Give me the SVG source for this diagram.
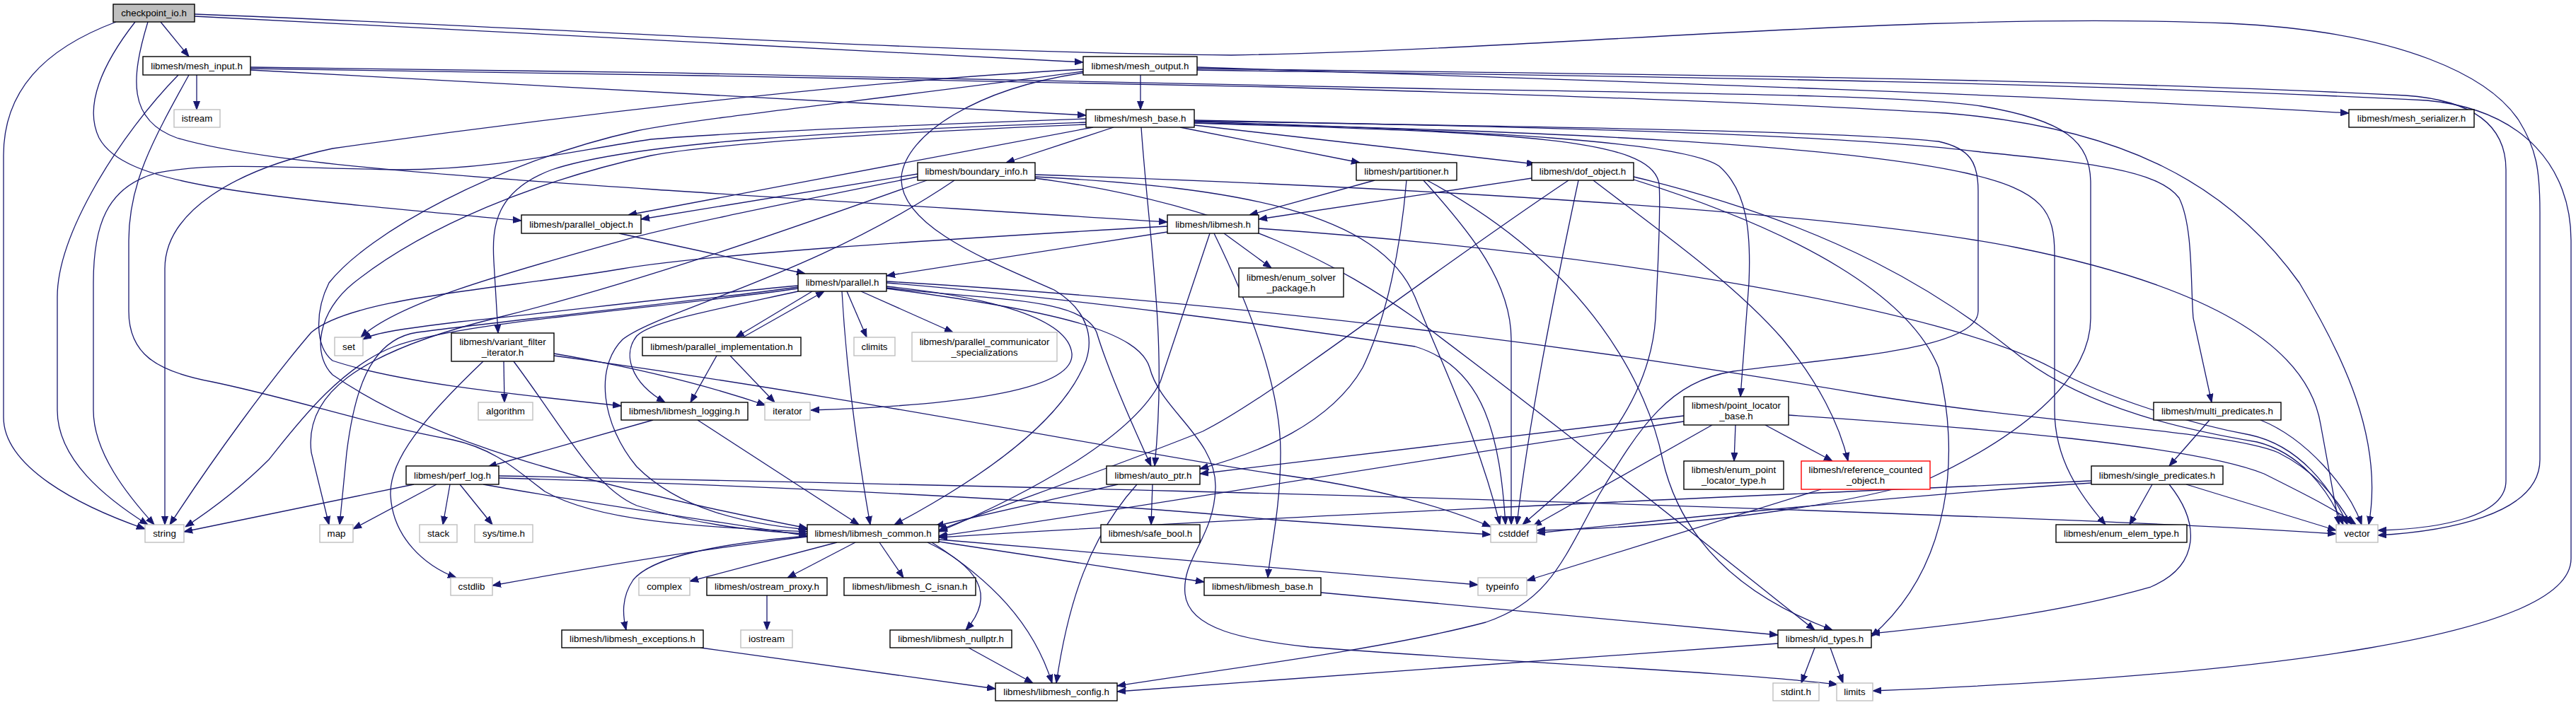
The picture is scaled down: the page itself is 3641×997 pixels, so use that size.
<svg xmlns="http://www.w3.org/2000/svg" width="3641" height="997" viewBox="0 0 3641 997">
<style>
.n rect{fill:#fff;stroke:#000;stroke-width:1.4}
.g rect{fill:#fff;stroke:#bfbfbf;stroke-width:1.4}
.r rect{fill:#fff;stroke:#ff0000;stroke-width:1.4}
.root rect{fill:#bfbfbf;stroke:#000;stroke-width:1.4}
text{font-family:"Liberation Sans",Arial,Helvetica,sans-serif;font-size:13.33px;text-anchor:middle;fill:#000}
#edges path{fill:none;stroke:#191970;stroke-width:1.3;marker-end:url(#arr)}
</style>
<defs>
<marker id="arr" viewBox="0 0 12 10" refX="12" refY="5" markerWidth="12" markerHeight="10" markerUnits="userSpaceOnUse" orient="auto"><path d="M0,0.5 L12,5 L0,9.5 z" fill="#191970" stroke="#191970" stroke-width="1"/></marker>
</defs>
<rect width="3641" height="997" fill="#fff"/>
<g id="edges">
<path d="M227,31 L267,80"/>
<path d="M275,23 C700,45 1200,70 1531,88"/>
<path d="M191,31 C145,90 118,150 140,195 C175,260 330,275 737,312"/>
<path d="M209,31 C185,110 180,170 250,195 C400,240 800,260 1650,314"/>
<path d="M164,31 C60,70 5,130 5,220 L5,590 C5,660 110,715 205,748"/>
<path d="M275,20 C800,40 1300,74 1740,78 C2200,70 2700,15 3150,33 C3400,45 3520,110 3560,170 C3585,210 3590,240 3590,300 L3590,650 C3590,730 3450,752 3361,757"/>
<path d="M278,106 L278,155"/>
<path d="M354,99 L1535,163"/>
<path d="M252,106 C170,190 81,330 81,420 L81,580 C81,650 150,705 209,742"/>
<path d="M267,106 C215,200 182,260 182,340 L182,440 C182,500 220,525 300,540 C420,565 520,600 640,622 C700,635 730,665 770,695 C850,740 1000,745 1141,752"/>
<path d="M354,95 C900,100 1600,115 2000,125 C2400,132 2700,135 2800,150 C2920,170 2955,200 2955,260 L2955,450 C2955,540 2850,620 2720,680 C2550,730 2300,748 2172,750"/>
<path d="M354,97 C800,102 1400,115 1800,123 C2200,135 2500,145 2750,160 C3000,180 3150,260 3250,400 C3310,500 3370,620 3348,742"/>
<path d="M1612,106 L1612,155"/>
<path d="M1531,98 C1200,115 750,170 470,210 C330,240 233,300 233,380 L233,742"/>
<path d="M1531,101 C1250,140 1000,165 900,185 C700,230 520,330 465,400 C445,440 445,490 470,510 C560,540 700,555 878,574"/>
<path d="M1531,103 C1380,125 1280,190 1274,250 C1270,320 1400,370 1490,410 C1540,440 1545,480 1535,510 C1500,600 1380,680 1264,742"/>
<path d="M1692,95 C2300,115 2900,135 3320,160"/>
<path d="M1692,97 C2300,105 2900,110 3400,135 C3500,142 3542,180 3542,240 L3542,680 C3542,730 3450,748 3361,750"/>
<path d="M1692,99 C2300,108 2900,115 3430,142 C3570,155 3634,240 3634,340 L3634,790 C3634,900 3200,955 2647,977"/>
<path d="M1574,180 L1422,230"/>
<path d="M1545,180 L888,304"/>
<path d="M1613,180 C1625,350 1650,480 1632,659"/>
<path d="M1668,180 L1922,230"/>
<path d="M1688,177 L2170,232"/>
<path d="M1535,173 C1200,185 900,200 780,240 C700,270 695,320 698,370 L704,471"/>
<path d="M1535,168 C1200,180 1000,190 920,197 C800,215 700,240 560,240 C420,238 300,228 220,245 C150,265 132,320 132,400 L132,580 C132,640 180,700 218,742"/>
<path d="M1535,176 C1200,190 1000,205 920,220 C760,255 600,320 500,400 C450,440 440,500 470,530 C600,620 800,680 1141,747"/>
<path d="M1688,172 C2100,185 2380,200 2430,235 C2470,270 2475,330 2472,400 L2460,561"/>
<path d="M1688,170 C2200,180 2600,190 2800,215 C2950,230 3050,240 3080,280 C3100,320 3096,400 3100,450 L3126,569"/>
<path d="M1688,174 C2200,185 2600,205 2780,245 C2890,270 2904,300 2904,360 L2904,580 C2904,650 2940,700 2976,742"/>
<path d="M1688,174 C2150,188 2335,195 2345,260 C2348,300 2342,400 2340,450 C2330,600 2200,700 2152,742"/>
<path d="M1688,171 C2200,180 2600,185 2740,200 C2785,210 2796,230 2796,270 L2796,440 C2796,495 2600,505 2450,525 C2360,540 2320,600 2260,700 C2210,790 2190,850 2100,880 C1950,920 1700,950 1579,970"/>
<path d="M1297,246 L906,310"/>
<path d="M1349,255 C1150,390 930,440 880,480 C840,520 850,600 900,660 C960,720 1050,740 1141,749"/>
<path d="M1297,250 C1100,290 950,320 880,340 C700,390 560,430 510,477"/>
<path d="M1310,255 C1100,330 900,400 700,450 C500,500 430,560 440,640 L465,742"/>
<path d="M1463,247 C2000,265 2600,300 2850,350 C3100,400 3260,480 3280,600 L3306,742"/>
<path d="M1463,250 C1750,265 1950,300 2000,420 C2040,520 2090,620 2120,742"/>
<path d="M1463,252 C1750,290 1900,380 2000,450 C2200,600 2400,760 2565,891"/>
<path d="M1943,255 L1766,304"/>
<path d="M1988,255 C1980,350 1960,450 1926,520 C1880,600 1780,640 1696,663"/>
<path d="M2012,255 C2080,330 2136,400 2136,480 L2136,742"/>
<path d="M2017,255 C2250,380 2330,550 2350,650 C2380,780 2480,850 2590,891"/>
<path d="M2165,252 L1779,310"/>
<path d="M2217,255 C2000,400 1800,560 1700,610 C1550,670 1400,720 1327,750"/>
<path d="M2252,255 C2350,330 2450,400 2520,480 C2570,540 2600,600 2612,652"/>
<path d="M2231,255 C2200,400 2160,600 2144,742"/>
<path d="M2309,250 C2600,320 2750,420 2850,500 C2950,580 3100,610 3190,625 C3250,640 3290,690 3312,742"/>
<path d="M2309,254 C2550,330 2700,420 2740,520 C2770,640 2760,800 2645,900"/>
<path d="M875,330 L1138,387"/>
<path d="M1650,328 L1253,390"/>
<path d="M1730,330 L1797,379"/>
<path d="M1716,330 C1760,420 1810,540 1810,640 C1810,720 1795,780 1792,817"/>
<path d="M1710,330 C1680,420 1660,480 1640,540 C1600,620 1450,700 1327,752"/>
<path d="M1650,320 C1300,340 1000,360 880,380 C700,410 500,420 440,470 C380,540 300,650 240,742"/>
<path d="M1779,323 C2300,360 2750,440 2900,520 C2980,565 3100,600 3180,615 C3250,630 3295,690 3318,742"/>
<path d="M1128,404 C950,420 800,440 650,455 C570,465 530,470 513,480"/>
<path d="M1128,406 C950,430 700,455 590,470 C520,480 500,560 490,640 L480,742"/>
<path d="M1128,408 C900,440 650,455 557,490 C480,520 420,600 380,650 C340,690 300,720 262,745"/>
<path d="M1128,412 C1000,440 920,455 900,475 C880,500 890,540 940,569"/>
<path d="M1148,412 L1040,477"/>
<path d="M1050,477 L1165,412"/>
<path d="M1197,412 L1225,477"/>
<path d="M1217,412 L1347,470"/>
<path d="M1190,412 C1195,500 1205,600 1230,742"/>
<path d="M1253,405 C1400,420 1510,450 1515,500 C1520,560 1300,575 1146,580"/>
<path d="M1253,407 C1400,425 1530,420 1550,470 C1565,520 1600,600 1627,659"/>
<path d="M1253,408 C1500,440 1610,470 1625,520 C1640,580 1720,620 1718,690 C1716,760 1670,790 1675,840 C1680,890 1760,905 1850,915 C2100,935 2450,950 2597,968"/>
<path d="M1253,400 C1500,420 1800,460 2000,490 C2100,520 2120,620 2128,742"/>
<path d="M1253,398 C1800,430 2300,500 2650,560 C2900,600 3150,610 3220,640 C3270,665 3300,700 3324,742"/>
<path d="M1013,503 L976,569"/>
<path d="M1032,503 L1095,569"/>
<path d="M712,511 L713,569"/>
<path d="M683,511 C600,590 550,650 552,700 C555,760 600,800 645,817"/>
<path d="M726,511 C800,610 840,690 900,715 C980,740 1050,750 1141,755"/>
<path d="M783,500 C900,520 1000,545 1082,573"/>
<path d="M783,503 C1200,560 1600,640 1800,670 C1950,690 2050,720 2107,745"/>
<path d="M923,594 L690,660"/>
<path d="M986,594 L1214,742"/>
<path d="M585,685 L260,752"/>
<path d="M617,685 L499,748"/>
<path d="M636,685 L626,742"/>
<path d="M650,685 L696,742"/>
<path d="M683,685 C850,715 1000,735 1141,758"/>
<path d="M705,676 C1200,690 1600,715 1800,735 C1950,745 2050,752 2107,756"/>
<path d="M705,673 C1300,685 2000,700 2720,728 C3000,738 3200,748 3302,755"/>
<path d="M2380,588 L1696,670"/>
<path d="M2380,596 C2000,650 1600,720 1327,758"/>
<path d="M2420,601 L2167,744"/>
<path d="M2453,601 L2451,652"/>
<path d="M2495,601 L2590,652"/>
<path d="M2528,587 C2800,605 3100,630 3200,670 C3260,700 3300,720 3330,742"/>
<path d="M3123,594 L3066,659"/>
<path d="M3195,594 C3260,620 3320,690 3338,742"/>
<path d="M3042,685 L3010,742"/>
<path d="M3090,685 L3302,750"/>
<path d="M3066,685 C3110,740 3110,800 3040,830 C2900,870 2750,885 2645,896"/>
<path d="M2956,680 C2500,700 1800,730 1327,760"/>
<path d="M2956,683 C2700,700 2400,730 2172,754"/>
<path d="M1580,685 L1322,744"/>
<path d="M1629,685 L1627,742"/>
<path d="M1607,685 C1540,760 1510,850 1493,966"/>
<path d="M2574,692 L2158,821"/>
<path d="M1141,759 C1000,775 850,800 696,828"/>
<path d="M1141,758 C1000,770 920,790 895,820 C878,845 880,870 885,891"/>
<path d="M1183,767 L975,822"/>
<path d="M1209,767 L1113,817"/>
<path d="M1243,767 L1277,817"/>
<path d="M1311,767 C1380,800 1410,840 1365,891"/>
<path d="M1317,767 C1400,820 1460,880 1487,966"/>
<path d="M1327,763 L2089,827"/>
<path d="M1327,766 L1702,823"/>
<path d="M1084,842 L1084,891"/>
<path d="M1867,838 L2513,898"/>
<path d="M990,916 L1407,974"/>
<path d="M1369,916 L1460,966"/>
<path d="M2565,916 L2546,966"/>
<path d="M2587,916 L2605,966"/>
<path d="M2513,910 L1579,978"/>
</g>
<g id="n1" class="root"><rect x="160" y="6" width="115" height="25"/><text x="217.5" y="23">checkpoint_io.h</text></g>
<g id="n2" class="n"><rect x="202" y="80" width="152" height="26"/><text x="278" y="97.5">libmesh/mesh_input.h</text></g>
<g id="n3" class="g"><rect x="246" y="155" width="65" height="25"/><text x="278.5" y="172">istream</text></g>
<g id="n4" class="n"><rect x="1531" y="80" width="161" height="26"/><text x="1611.5" y="97.5">libmesh/mesh_output.h</text></g>
<g id="n5" class="n"><rect x="1535" y="155" width="153" height="25"/><text x="1611.5" y="172">libmesh/mesh_base.h</text></g>
<g id="n6" class="n"><rect x="3320" y="155" width="177" height="25"/><text x="3408.5" y="172">libmesh/mesh_serializer.h</text></g>
<g id="n7" class="n"><rect x="1297" y="230" width="166" height="25"/><text x="1380" y="247">libmesh/boundary_info.h</text></g>
<g id="n8" class="n"><rect x="1917" y="230" width="142" height="25"/><text x="1988" y="247">libmesh/partitioner.h</text></g>
<g id="n9" class="n"><rect x="2165" y="230" width="144" height="25"/><text x="2237" y="247">libmesh/dof_object.h</text></g>
<g id="n10" class="n"><rect x="737" y="304" width="169" height="26"/><text x="821.5" y="321.5">libmesh/parallel_object.h</text></g>
<g id="n11" class="n"><rect x="1650" y="304" width="129" height="26"/><text x="1714.5" y="321.5">libmesh/libmesh.h</text></g>
<g id="n12" class="n"><rect x="1751" y="379" width="148" height="41"/><text x="1825" y="396.5">libmesh/enum_solver</text><text x="1825" y="411.5">_package.h</text></g>
<g id="n13" class="n"><rect x="1128" y="387" width="125" height="25"/><text x="1190.5" y="404">libmesh/parallel.h</text></g>
<g id="n14" class="g"><rect x="473" y="477" width="40" height="26"/><text x="493" y="494.5">set</text></g>
<g id="n15" class="n"><rect x="638" y="471" width="145" height="40"/><text x="710.5" y="488.3">libmesh/variant_filter</text><text x="710.5" y="503.3">_iterator.h</text></g>
<g id="n16" class="n"><rect x="908" y="477" width="224" height="26"/><text x="1020" y="494.5">libmesh/parallel_implementation.h</text></g>
<g id="n17" class="g"><rect x="1207" y="477" width="58" height="26"/><text x="1236" y="494.5">climits</text></g>
<g id="n18" class="g"><rect x="1289" y="470" width="205" height="41"/><text x="1391.5" y="487.8">libmesh/parallel_communicator</text><text x="1391.5" y="502.8">_specializations</text></g>
<g id="n19" class="n"><rect x="878" y="569" width="179" height="25"/><text x="967.5" y="586">libmesh/libmesh_logging.h</text></g>
<g id="n20" class="g"><rect x="1081" y="569" width="64" height="25"/><text x="1113" y="586">iterator</text></g>
<g id="n21" class="g"><rect x="676" y="569" width="77" height="25"/><text x="714.5" y="586">algorithm</text></g>
<g id="n22" class="n"><rect x="574" y="659" width="131" height="26"/><text x="639.5" y="676.5">libmesh/perf_log.h</text></g>
<g id="n23" class="n"><rect x="2380" y="561" width="148" height="40"/><text x="2454" y="578.3">libmesh/point_locator</text><text x="2454" y="593.3">_base.h</text></g>
<g id="n24" class="n"><rect x="3044" y="569" width="180" height="25"/><text x="3134" y="586">libmesh/multi_predicates.h</text></g>
<g id="n25" class="n"><rect x="1564" y="659" width="132" height="26"/><text x="1630" y="676.5">libmesh/auto_ptr.h</text></g>
<g id="n26" class="n"><rect x="2380" y="652" width="141" height="40"/><text x="2450.5" y="669.3">libmesh/enum_point</text><text x="2450.5" y="684.3">_locator_type.h</text></g>
<g id="n27" class="r"><rect x="2546" y="652" width="182" height="40"/><text x="2637" y="669.3">libmesh/reference_counted</text><text x="2637" y="684.3">_object.h</text></g>
<g id="n28" class="n"><rect x="2956" y="659" width="186" height="26"/><text x="3049" y="676.5">libmesh/single_predicates.h</text></g>
<g id="n29" class="g"><rect x="205" y="742" width="55" height="25"/><text x="232.5" y="759">string</text></g>
<g id="n30" class="g"><rect x="452" y="742" width="47" height="25"/><text x="475.5" y="759">map</text></g>
<g id="n31" class="g"><rect x="593" y="742" width="53" height="25"/><text x="619.5" y="759">stack</text></g>
<g id="n32" class="g"><rect x="671" y="742" width="82" height="25"/><text x="712" y="759">sys/time.h</text></g>
<g id="n33" class="n"><rect x="1141" y="742" width="186" height="25"/><text x="1234" y="759">libmesh/libmesh_common.h</text></g>
<g id="n34" class="n"><rect x="1556" y="742" width="140" height="25"/><text x="1626" y="759">libmesh/safe_bool.h</text></g>
<g id="n35" class="g"><rect x="2107" y="742" width="65" height="25"/><text x="2139.5" y="759">cstddef</text></g>
<g id="n36" class="n"><rect x="2906" y="742" width="185" height="25"/><text x="2998.5" y="759">libmesh/enum_elem_type.h</text></g>
<g id="n37" class="g"><rect x="3302" y="742" width="59" height="25"/><text x="3331.5" y="759">vector</text></g>
<g id="n38" class="g"><rect x="637" y="817" width="59" height="25"/><text x="666.5" y="834">cstdlib</text></g>
<g id="n39" class="g"><rect x="903" y="817" width="72" height="25"/><text x="939" y="834">complex</text></g>
<g id="n40" class="n"><rect x="999" y="817" width="170" height="25"/><text x="1084" y="834">libmesh/ostream_proxy.h</text></g>
<g id="n41" class="n"><rect x="1193" y="817" width="186" height="25"/><text x="1286" y="834">libmesh/libmesh_C_isnan.h</text></g>
<g id="n42" class="n"><rect x="1702" y="817" width="165" height="25"/><text x="1784.5" y="834">libmesh/libmesh_base.h</text></g>
<g id="n43" class="g"><rect x="2089" y="817" width="69" height="25"/><text x="2123.5" y="834">typeinfo</text></g>
<g id="n44" class="n"><rect x="794" y="891" width="200" height="25"/><text x="894" y="908">libmesh/libmesh_exceptions.h</text></g>
<g id="n45" class="g"><rect x="1047" y="891" width="73" height="25"/><text x="1083.5" y="908">iostream</text></g>
<g id="n46" class="n"><rect x="1258" y="891" width="172" height="25"/><text x="1344" y="908">libmesh/libmesh_nullptr.h</text></g>
<g id="n47" class="n"><rect x="2513" y="891" width="132" height="25"/><text x="2579" y="908">libmesh/id_types.h</text></g>
<g id="n48" class="n"><rect x="1407" y="966" width="172" height="25"/><text x="1493" y="983">libmesh/libmesh_config.h</text></g>
<g id="n49" class="g"><rect x="2506" y="966" width="65" height="25"/><text x="2538.5" y="983">stdint.h</text></g>
<g id="n50" class="g"><rect x="2596" y="966" width="51" height="25"/><text x="2621.5" y="983">limits</text></g>
</svg>
